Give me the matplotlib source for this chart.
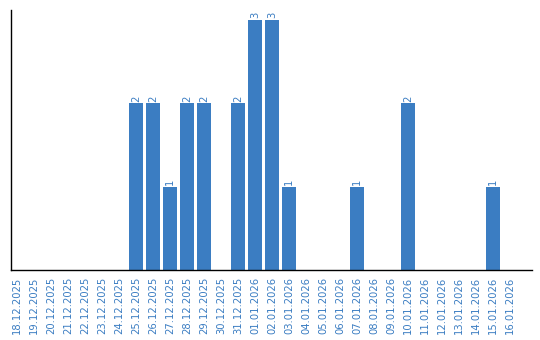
import matplotlib
matplotlib.use("Agg")
import matplotlib.pyplot as plt

dates = ["18.12.2025","19.12.2025","20.12.2025","21.12.2025","22.12.2025","23.12.2025",
         "24.12.2025","25.12.2025","26.12.2025","27.12.2025","28.12.2025","29.12.2025",
         "30.12.2025","31.12.2025","01.01.2026","02.01.2026","03.01.2026","04.01.2026",
         "05.01.2026","06.01.2026","07.01.2026","08.01.2026","09.01.2026","10.01.2026",
         "11.01.2026","12.01.2026","13.01.2026","14.01.2026","15.01.2026","16.01.2026"]
values = [0,0,0,0,0,0,0,2,2,1,2,2,0,2,3,3,1,0,0,0,1,0,0,2,0,0,0,0,1,0]

bar_color = "#3b7dc2"
text_color = "#3b7dc2"

fig = plt.figure(figsize=(5.4, 3.4), dpi=100)
ax = fig.add_axes([11/540, 70/340, 521/540, 260/340])
x = list(range(len(dates)))
ax.bar(x, values, width=0.82, color=bar_color)
for xi, v in zip(x, values):
    if v > 0:
        ax.text(xi, v + 0.02, str(v), rotation=90, ha="center", va="bottom",
                fontsize=7.2, color=text_color)
ax.set_xlim(-0.35, 30.3)
ax.set_ylim(0, 3.12)
ax.set_xticks(x)
ax.set_xticklabels(dates, rotation=90, fontsize=7.2, color=text_color)
ax.tick_params(axis="x", length=0, pad=5)
ax.set_yticks([])
for s in ["top", "right"]:
    ax.spines[s].set_visible(False)
ax.spines["left"].set_linewidth(1.0)
ax.spines["bottom"].set_linewidth(1.0)
fig.savefig("out.png", dpi=100)
